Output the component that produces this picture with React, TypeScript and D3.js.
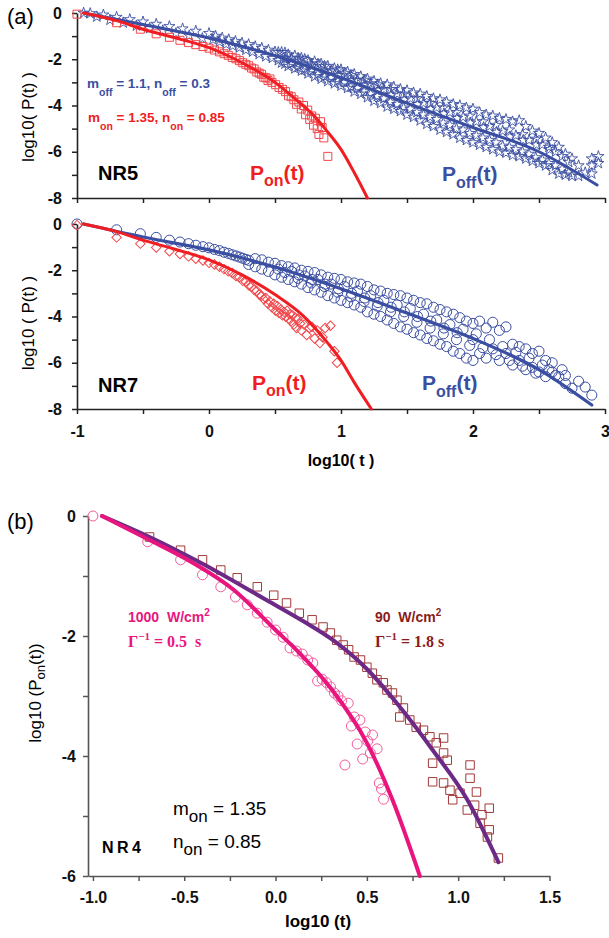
import React, { useEffect, useRef } from "react";
import * as d3 from "d3";

type Pt = [number, number];
type Seg = { t: string; s?: "sub" | "sup" };

// ---- panel (a), NR5 ----
const nr5OnPts: Pt[] = [
  [-1.0, -0.05], [-0.7, -0.42], [-0.52, -0.7], [-0.4, -0.9], [-0.3, -1.05], [-0.22, -1.18], [-0.155, -1.28],
  [-0.1, -1.37], [-0.046, -1.45], [0, -1.52], [0.041, -1.6], [0.079, -1.68], [0.114, -1.76], [0.146, -1.83],
  [0.176, -1.92], [0.204, -1.98], [0.23, -2.06], [0.255, -2.15], [0.279, -2.22], [0.301, -2.28], [0.322, -2.38],
  [0.342, -2.42], [0.362, -2.55], [0.38, -2.6], [0.398, -2.65], [0.415, -2.78], [0.431, -2.8], [0.447, -2.92],
  [0.462, -2.85], [0.477, -3.0], [0.505, -3.1], [0.531, -3.22], [0.556, -3.3], [0.58, -3.4], [0.602, -3.58],
  [0.623, -3.62], [0.643, -3.75], [0.663, -3.95], [0.681, -3.85], [0.699, -4.15], [0.716, -4.0], [0.732, -4.4],
  [0.748, -4.2], [0.763, -4.6], [0.778, -4.45], [0.792, -4.85], [0.806, -4.55], [0.82, -5.0], [0.833, -5.25],
  [0.845, -4.7], [0.857, -4.95], [0.87, -5.4], [0.9, -6.2],
];
const nr5OffPts: Pt[] = [
  [-0.95, 0], [-0.9, -0.02], [-0.85, -0.16], [-0.8, -0.08], [-0.75, -0.3], [-0.7, -0.18], [-0.65, -0.42], [-0.6, -0.28],
  [-0.55, -0.55], [-0.5, -0.38], [-0.45, -0.66], [-0.4, -0.48], [-0.35, -0.76], [-0.3, -0.58], [-0.25, -0.88],
  [-0.2, -0.68], [-0.15, -0.98], [-0.1, -0.78], [-0.05, -1.1], [0, -0.88],
  [0.03, -1.15], [0.05, -1.0], [0.08, -1.25], [0.1, -1.08], [0.13, -1.35], [0.15, -1.15], [0.18, -1.42], [0.2, -1.22],
  [0.23, -1.5], [0.25, -1.3], [0.28, -1.6], [0.3, -1.36], [0.33, -1.68], [0.35, -1.45], [0.38, -1.78], [0.4, -1.52],
  [0.43, -1.88], [0.45, -1.6], [0.48, -1.95], [0.5, -1.68],
  [0.55, -1.7], [0.55, -2.15], [0.58, -1.95], [0.6, -1.8], [0.6, -2.3], [0.65, -1.85], [0.65, -2.4], [0.68, -2.1],
  [0.7, -1.95], [0.7, -2.5], [0.75, -2.05], [0.75, -2.62], [0.78, -2.3], [0.8, -2.1], [0.8, -2.75], [0.85, -2.2],
  [0.85, -2.85], [0.88, -2.5], [0.9, -2.3], [0.9, -2.95], [0.95, -2.4], [0.95, -3.05], [0.98, -2.7], [1.0, -2.45],
  [1.0, -3.15], [1.05, -2.55], [1.05, -3.25], [1.08, -2.9], [1.1, -2.65], [1.1, -3.4], [1.15, -2.75], [1.15, -3.5],
  [1.18, -3.1], [1.2, -2.85], [1.2, -3.65], [1.25, -2.95], [1.25, -3.8], [1.28, -3.35], [1.3, -3.05], [1.3, -3.9],
  [1.35, -3.1], [1.35, -4.05], [1.38, -3.55], [1.4, -3.2], [1.4, -4.15], [1.45, -3.3], [1.45, -4.25], [1.48, -3.75],
  [1.5, -3.35], [1.5, -4.4], [1.55, -3.45], [1.55, -4.5], [1.58, -3.95], [1.6, -3.5], [1.6, -4.65], [1.65, -3.6],
  [1.65, -4.8], [1.68, -4.15], [1.7, -3.7], [1.7, -4.9], [1.75, -3.75], [1.75, -5.05], [1.78, -4.35], [1.8, -3.85],
  [1.8, -5.15], [1.85, -3.95], [1.85, -5.25], [1.88, -4.55], [1.9, -4.0], [1.9, -5.4], [1.95, -4.1], [1.95, -5.5],
  [1.98, -4.75], [2.0, -4.15], [2.0, -5.6], [2.05, -4.3], [2.05, -5.7], [2.08, -4.95], [2.1, -4.4], [2.1, -5.8],
  [2.15, -4.45], [2.15, -5.9], [2.18, -5.15], [2.2, -4.55], [2.2, -6.0], [2.25, -4.6], [2.25, -6.05], [2.28, -5.35],
  [2.3, -4.7], [2.3, -6.15], [2.35, -4.65], [2.35, -6.2], [2.38, -5.5], [2.4, -4.9], [2.4, -6.3], [2.45, -5.1],
  [2.45, -6.4], [2.48, -5.7], [2.5, -5.2], [2.5, -6.5], [2.55, -5.4], [2.55, -6.6], [2.58, -5.9], [2.6, -5.6],
  [2.6, -6.8], [2.65, -5.8], [2.65, -6.95], [2.7, -6.1], [2.7, -7.0], [2.75, -6.3], [2.75, -7.05], [2.8, -6.6],
  [2.8, -7.05], [2.85, -6.9], [2.9, -6.6], [2.9, -6.3], [2.9, -6.95], [2.95, -6.2], [2.95, -6.5],
  [0.525, -1.7], [0.525, -2.05], [0.575, -1.72], [0.575, -2.2], [0.625, -1.95], [0.625, -2.2], [0.675, -1.95],
  [0.675, -2.35], [0.725, -2.0], [0.725, -2.45], [0.775, -2.2], [0.775, -2.5], [0.825, -2.2], [0.825, -2.65],
  [0.875, -2.3], [0.875, -2.75], [0.925, -2.5], [0.925, -2.8], [0.975, -2.45], [0.975, -2.95], [1.025, -2.6],
  [1.025, -3.0], [1.075, -2.7], [1.075, -3.2], [1.125, -2.9], [1.125, -3.25], [1.175, -2.9], [1.175, -3.4],
  [1.225, -3.05], [1.225, -3.5], [1.275, -3.1], [1.275, -3.6], [1.325, -3.3], [1.325, -3.7], [1.375, -3.3],
  [1.375, -3.85], [1.425, -3.5], [1.425, -3.95], [1.475, -3.5], [1.475, -4.1], [1.525, -3.7], [1.525, -4.15],
  [1.575, -3.7], [1.575, -4.3], [1.625, -3.9], [1.625, -4.4], [1.675, -3.9], [1.675, -4.5], [1.725, -4.1],
  [1.725, -4.6], [1.775, -4.1], [1.775, -4.75], [1.825, -4.3], [1.825, -4.85], [1.875, -4.3], [1.875, -5.0],
  [1.925, -4.5], [1.925, -5.05], [1.975, -4.45], [1.975, -5.2], [2.025, -4.7], [2.025, -5.3], [2.075, -4.7],
  [2.075, -5.4], [2.125, -4.9], [2.125, -5.5], [2.175, -4.85], [2.175, -5.6], [2.225, -5.1], [2.225, -5.75],
  [2.275, -5.05], [2.275, -5.8], [2.325, -5.3], [2.325, -5.9], [2.375, -5.25], [2.375, -6.0], [2.425, -5.5],
  [2.425, -6.1], [2.475, -5.45], [2.475, -6.25], [2.525, -5.7], [2.525, -6.35], [2.575, -5.8], [2.575, -6.5],
  [2.625, -6.0], [2.625, -6.6], [2.675, -6.2], [2.675, -6.75], [2.725, -6.45], [2.725, -6.9],
];
const nr5OnFit: Pt[] = [
  [-0.95, 0], [-0.7, -0.33], [-0.5, -0.7], [-0.25, -1.08], [0, -1.5], [0.25, -2.15], [0.5, -3.0],
  [0.69, -3.9], [0.77, -4.3], [0.9, -5.15], [1.0, -5.9], [1.1, -6.9], [1.2, -8],
];
const nr5OffFit: Pt[] = [
  [-0.95, 0], [-0.5, -0.5], [0, -1.08], [0.5, -1.85], [1, -2.8], [1.5, -3.9], [2, -4.95], [2.5, -6.0], [2.94, -7.44],
];

// ---- panel (a), NR7 ----
const nr7OnPts: Pt[] = [
  [-1, -0.05], [-0.7, -0.58], [-0.52, -0.85], [-0.4, -1.02], [-0.3, -1.18], [-0.22, -1.3], [-0.155, -1.4],
  [-0.1, -1.5], [-0.046, -1.58], [0, -1.68], [0.041, -1.75], [0.079, -1.85], [0.114, -1.95], [0.146, -2.05],
  [0.176, -2.12], [0.204, -2.25], [0.23, -2.3], [0.255, -2.45], [0.279, -2.5], [0.301, -2.65], [0.322, -2.7],
  [0.342, -2.85], [0.362, -2.9], [0.38, -3.05], [0.398, -3.1], [0.415, -3.25], [0.431, -3.2], [0.447, -3.45],
  [0.462, -3.35], [0.477, -3.6], [0.491, -3.45], [0.505, -3.75], [0.519, -3.55], [0.531, -3.85], [0.544, -3.7],
  [0.556, -3.95], [0.568, -3.8], [0.58, -4.0], [0.591, -3.75], [0.602, -4.1], [0.613, -3.9], [0.623, -4.2],
  [0.633, -3.95], [0.643, -4.35], [0.653, -4.05], [0.663, -4.5], [0.672, -4.1], [0.69, -4.3], [0.7, -4.6],
  [0.72, -4.35], [0.74, -4.8], [0.76, -4.5], [0.78, -4.45], [0.8, -4.95], [0.82, -4.6], [0.84, -5.15],
  [0.86, -4.9], [0.88, -4.5], [0.92, -4.4], [0.95, -5.5], [0.97, -6.0],
];
const nr7OffPts: Pt[] = [
  [-1, 0], [-0.7, -0.25], [-0.52, -0.42], [-0.4, -0.58], [-0.3, -0.7], [-0.22, -0.78], [-0.155, -0.85], [-0.1, -0.92],
  [-0.046, -0.98], [0, -1.03], [0.041, -1.1], [0.079, -1.15], [0.114, -1.22], [0.146, -1.27], [0.176, -1.33],
  [0.204, -1.38], [0.23, -1.43], [0.255, -1.48], [0.279, -1.53], [0.301, -1.57], [0.3, -1.75], [0.35, -1.5],
  [0.35, -1.85], [0.4, -1.55], [0.4, -1.95], [0.45, -1.65], [0.45, -2.05], [0.5, -1.7], [0.5, -2.2],
  [0.55, -1.8], [0.55, -2.3], [0.6, -1.85], [0.6, -2.4], [0.65, -1.9], [0.65, -2.5], [0.68, -2.2], [0.7, -2.0],
  [0.7, -2.6], [0.75, -2.05], [0.75, -2.75], [0.78, -2.4], [0.8, -2.1], [0.8, -2.85], [0.85, -2.2], [0.85, -2.95],
  [0.88, -2.6], [0.9, -2.3], [0.9, -3.1], [0.95, -2.35], [0.95, -3.2], [0.98, -2.8], [1.0, -2.4], [1.0, -3.3],
  [1.05, -2.5], [1.05, -3.4], [1.08, -3.0], [1.1, -2.55], [1.1, -3.5], [1.15, -2.6], [1.15, -3.6], [1.18, -3.2],
  [1.2, -2.7], [1.2, -3.8], [1.25, -2.85], [1.25, -3.9], [1.28, -3.4], [1.3, -2.9], [1.3, -4.0], [1.35, -3.0],
  [1.35, -4.15], [1.38, -3.6], [1.4, -3.05], [1.4, -4.3], [1.45, -3.1], [1.45, -4.45], [1.48, -3.8], [1.5, -3.2],
  [1.5, -4.55], [1.55, -3.3], [1.55, -4.7], [1.58, -4.0], [1.6, -3.4], [1.6, -4.8], [1.65, -3.45], [1.65, -4.95],
  [1.68, -4.2], [1.7, -3.6], [1.7, -5.05], [1.75, -3.7], [1.75, -5.2], [1.78, -4.5], [1.8, -3.8], [1.8, -5.3],
  [1.85, -3.9], [1.85, -5.5], [1.88, -4.7], [1.9, -4.05], [1.9, -5.6], [1.95, -4.2], [1.95, -5.8], [2.0, -4.3],
  [2.0, -5.9], [2.0, -5.0], [2.05, -4.2], [2.05, -5.6], [2.1, -4.5], [2.1, -5.8], [2.15, -4.25], [2.15, -5.4],
  [2.2, -4.6], [2.2, -5.9], [2.25, -4.45], [2.25, -5.6], [2.3, -5.2], [2.3, -6.1], [2.35, -5.3], [2.35, -5.9],
  [2.4, -5.4], [2.4, -6.3], [2.45, -5.6], [2.45, -6.2], [2.5, -5.5], [2.5, -6.4], [2.55, -5.9], [2.55, -6.6],
  [2.6, -6.0], [2.6, -6.4], [2.65, -6.6], [2.7, -6.55], [2.7, -6.9], [2.75, -7.1], [2.8, -6.8], [2.85, -7.05],
  [2.9, -7.4],
  [0.525, -1.95], [0.575, -2.1], [0.625, -2.05], [0.675, -2.35], [0.725, -2.25], [0.775, -2.55], [0.825, -2.4],
  [0.875, -2.7], [0.925, -2.6], [0.975, -2.95], [1.025, -2.7], [1.075, -3.15], [1.125, -2.9], [1.175, -3.35],
  [1.225, -3.1], [1.275, -3.55], [1.325, -3.3], [1.375, -3.8], [1.425, -3.5], [1.475, -4.0], [1.525, -3.65],
  [1.575, -4.25], [1.625, -3.9], [1.675, -4.5], [1.725, -4.15], [1.775, -4.75], [1.825, -4.35], [1.875, -5.0],
  [1.925, -4.55], [1.975, -5.25], [2.025, -4.75], [2.075, -5.35], [2.125, -5.0], [2.175, -5.65], [2.225, -5.3],
  [2.275, -5.9], [2.325, -5.55], [2.375, -6.15], [2.425, -5.8], [2.475, -6.45], [2.525, -6.1], [2.575, -6.3],
  [2.625, -6.55], [2.675, -6.3],
];
const nr7OnFit: Pt[] = [
  [-0.95, 0], [-0.7, -0.33], [-0.5, -0.7], [-0.25, -1.1], [0, -1.55], [0.25, -2.2], [0.5, -3.05],
  [0.71, -3.95], [0.9, -5.15], [1.0, -5.9], [1.1, -6.85], [1.23, -8],
];
const nr7OffFit: Pt[] = [
  [-0.95, 0], [-0.5, -0.56], [0, -1.12], [0.5, -1.86], [1, -2.8], [1.5, -3.85], [2, -4.95], [2.5, -6.3], [2.9, -7.83],
];

// ---- panel (b), NR4 ----
const nr4HighPts: Pt[] = [
  [-1, 0], [-0.7, -0.43], [-0.52, -0.73], [-0.4, -0.98], [-0.3, -1.18], [-0.22, -1.35], [-0.155, -1.48],
  [-0.1, -1.62], [-0.046, -1.77], [0, -1.9], [0.041, -2.02], [0.079, -2.2], [0.114, -2.25], [0.146, -2.3],
  [0.176, -2.4], [0.204, -2.45], [0.23, -2.75], [0.255, -2.72], [0.279, -2.78], [0.301, -2.85], [0.322, -2.95],
  [0.342, -3.0], [0.362, -3.08], [0.38, -4.15], [0.398, -3.12], [0.415, -3.5], [0.431, -3.35], [0.447, -3.8],
  [0.462, -3.4], [0.477, -4.05], [0.491, -3.6], [0.505, -3.75], [0.519, -3.95], [0.531, -3.65], [0.556, -3.88],
  [0.568, -4.45], [0.58, -4.55], [0.591, -4.72],
];
const nr4LowPts: Pt[] = [
  [-0.69, -0.35], [-0.52, -0.57], [-0.4, -0.73], [-0.3, -0.9], [-0.21, -1.03], [-0.1, -1.18], [-0.01, -1.32],
  [0.06, -1.45], [0.13, -1.62], [0.2, -1.73], [0.26, -1.85], [0.3, -1.95], [0.335, -2.07], [0.37, -2.15],
  [0.4, -2.23], [0.43, -2.35], [0.465, -2.4], [0.5, -2.52], [0.53, -2.62], [0.555, -2.73], [0.59, -2.78],
  [0.61, -2.9], [0.64, -2.95], [0.665, -3.07], [0.68, -3.35], [0.7, -3.2], [0.735, -3.4], [0.77, -3.52],
  [0.81, -3.57], [0.845, -3.68], [0.88, -3.78], [0.92, -3.7], [0.92, -3.95], [0.86, -4.12], [0.94, -4.07],
  [0.86, -4.43], [0.92, -4.45], [0.955, -4.57], [0.97, -4.73], [1.01, -4.62], [1.065, -4.15], [1.065, -4.37],
  [1.1, -4.6], [1.05, -4.9], [1.09, -4.82], [1.13, -4.98], [1.17, -4.87], [1.12, -5.12], [1.17, -5.23],
  [1.16, -5.35], [1.22, -5.7],
];
const nr4HighFit: Pt[] = [
  [-0.95, 0], [-0.69, -0.4], [-0.5, -0.7], [-0.23, -1.23], [0, -1.9], [0.13, -2.28], [0.31, -2.9],
  [0.5, -3.78], [0.64, -4.73], [0.79, -6],
];
const nr4LowFit: Pt[] = [
  [-0.95, 0], [-0.69, -0.35], [-0.41, -0.78], [-0.05, -1.4], [0.15, -1.75], [0.315, -2.07], [0.5, -2.55],
  [0.68, -3.18], [0.86, -3.9], [1.05, -4.73], [1.22, -5.77],
];

// tick values
const xTicksA = [-1, -0.5, 0, 0.5, 1, 1.5, 2, 2.5, 3];
const yTicksA = [0, -1, -2, -3, -4, -5, -6, -7, -8];
const xTicksB = [-1, -0.75, -0.5, -0.25, 0, 0.25, 0.5, 0.75, 1, 1.25, 1.5];
const yTicksB = [0, -1, -2, -3, -4, -5, -6];

const SANS = "'Liberation Sans', Arial, Helvetica, sans-serif";
const SERIF = "'Liberation Serif', 'Times New Roman', serif";
const RED = "#f01e23";
const RED_PT = "#f2474b";
const BLUE = "#3a4ea2";
const PINK = "#e8157e";
const PINK_PT = "#f25c9c";
const PURPLE = "#6c2a86";
const BROWN = "#a23a3a";
const BROWN_TX = "#8a1c1c";

const App = () => {
  const svgRef = useRef<SVGSVGElement>(null);

  useEffect(() => {
    const svg = d3.select(svgRef.current);
    svg.selectAll("*").remove();

    const xA = d3.scaleLinear().domain([-1, 3]).range([77, 605]);
    const yTop = d3.scaleLinear().domain([-8, 0]).range([198, 13]);
    const yBot = d3.scaleLinear().domain([-8, 0]).range([409, 224]);
    const xB = d3.scaleLinear().domain([-1.027, 1.5]).range([88, 549.5]);
    const yB = d3.scaleLinear().domain([-6, 0]).range([876, 516]);

    // rich text with sub/superscripts
    const rich = (x: number, y: number, segs: Seg[], o: any) => {
      const t = svg
        .append("text")
        .attr("x", x)
        .attr("y", y)
        .attr("font-size", o.size)
        .attr("fill", o.color || "#000")
        .attr("font-weight", o.weight || "bold")
        .attr("font-family", o.family || SANS)
        .attr("text-anchor", o.anchor || "start")
        .style("white-space", "pre");
      if (o.rotate) t.attr("transform", `rotate(-90 ${x} ${y})`);
      let cur = 0;
      segs.forEach((sg) => {
        const target = sg.s === "sub" ? o.subShift ?? o.size * 0.3 : sg.s === "sup" ? -(o.supShift ?? o.size * 0.4) : 0;
        const sp = t.append("tspan").text(sg.t).attr("dy", target - cur);
        if (sg.s) sp.attr("font-size", o.subSize ?? o.size * 0.72);
        cur = target;
      });
    };

    const styleAxis = (g: any, color: string, size: number) => {
      g.attr("font-size", size).attr("font-family", SANS).attr("font-weight", "bold");
      g.select(".domain").attr("stroke", color).attr("stroke-width", 1.6);
      g.selectAll(".tick line").attr("stroke", color).attr("stroke-width", 1.5);
      g.selectAll(".tick text").attr("fill", "#111");
    };

    // ---- panel (a) axes ----
    const fmtA = (d: any) => (Number.isInteger(d) && d % 2 === 0 ? String(d) : "");
    [yTop, yBot].forEach((y) => {
      svg
        .append("g")
        .attr("transform", "translate(77,0)")
        .call(d3.axisLeft(y).tickValues(yTicksA).tickFormat(fmtA).tickSize(5).tickSizeOuter(0).tickPadding(10))
        .call((g) => styleAxis(g, "#222", 16));
    });
    svg
      .append("g")
      .attr("transform", "translate(0,198)")
      .call(d3.axisBottom(xA).tickValues(xTicksA).tickFormat(() => "").tickSize(5).tickSizeOuter(0))
      .call((g) => styleAxis(g, "#222", 16));
    svg
      .append("g")
      .attr("transform", "translate(0,409)")
      .call(
        d3
          .axisBottom(xA)
          .tickValues(xTicksA)
          .tickFormat((d: any) => (Number.isInteger(d) ? String(d) : ""))
          .tickSize(5)
          .tickSizeOuter(0)
          .tickPadding(12)
      )
      .call((g) => styleAxis(g, "#222", 16));

    // ---- panel (b) axes ----
    svg
      .append("g")
      .attr("transform", "translate(88,0)")
      .call(
        d3
          .axisLeft(yB)
          .tickValues(yTicksB)
          .tickFormat((d: any) => (d % 2 === 0 ? String(d) : ""))
          .tickSize(5)
          .tickSizeOuter(0)
          .tickPadding(7)
      )
      .call((g) => styleAxis(g, "#555", 16));
    svg
      .append("g")
      .attr("transform", "translate(0,876)")
      .call(
        d3
          .axisBottom(xB)
          .tickValues(xTicksB)
          .tickFormat((d: any) => (Math.abs(d * 2 - Math.round(d * 2)) < 1e-9 ? d.toFixed(1) : ""))
          .tickSize(5)
          .tickSizeOuter(0)
          .tickPadding(11)
      )
      .call((g) => styleAxis(g, "#555", 16));

    // ---- marks ----
    const marks = (pts: Pt[], x: any, y: any, type: any, size: number, color: string, rot = 0, sw = 1) => {
      const sym = d3.symbol().type(type).size(size);
      svg
        .append("g")
        .selectAll("path")
        .data(pts)
        .join("path")
        .attr("d", sym as any)
        .attr("transform", (d) => `translate(${x(d[0])},${y(d[1])}) rotate(${rot})`)
        .attr("fill", "none")
        .attr("stroke", color)
        .attr("stroke-width", sw);
    };
    const fit = (pts: Pt[], x: any, y: any, color: string, w: number) => {
      const line = d3
        .line<Pt>()
        .x((d) => x(d[0]))
        .y((d) => y(d[1]))
        .curve(d3.curveMonotoneX);
      svg
        .append("path")
        .datum(pts)
        .attr("d", line)
        .attr("fill", "none")
        .attr("stroke", color)
        .attr("stroke-width", w)
        .attr("stroke-linecap", "round");
    };

    // NR5
    marks(nr5OffPts, xA, yTop, d3.symbolStar, 38, BLUE, 0, 0.9);
    marks(nr5OnPts, xA, yTop, d3.symbolSquare, 64, RED_PT, 0, 1);
    fit(nr5OffFit, xA, yTop, BLUE, 3);
    fit(nr5OnFit, xA, yTop, RED, 3);

    // NR7
    marks(nr7OffPts, xA, yBot, d3.symbolCircle, 80, BLUE, 0, 1);
    marks(nr7OnPts, xA, yBot, d3.symbolSquare, 45, RED_PT, 45, 1);
    fit(nr7OffFit, xA, yBot, BLUE, 3.2);
    fit(nr7OnFit, xA, yBot, RED, 3);

    // NR4
    marks(nr4LowPts, xB, yB, d3.symbolSquare, 72, BROWN, 0, 1);
    marks(nr4HighPts, xB, yB, d3.symbolCircle, 78, PINK_PT, 0, 1);
    fit(nr4LowFit, xB, yB, PURPLE, 4);
    fit(nr4HighFit, xB, yB, PINK, 4);

    // ---- text ----
    rich(7, 24, [{ t: "(a)" }], { size: 22, weight: "normal" });
    rich(7, 529, [{ t: "(b)" }], { size: 22, weight: "normal" });

    rich(34, 117, [{ t: "log10( P(t) )" }], { size: 17, weight: "normal", anchor: "middle", rotate: true });
    rich(34, 323, [{ t: "log10 ( P(t) )" }], { size: 17, weight: "normal", anchor: "middle", rotate: true });
    rich(41, 693, [{ t: "log10 (P" }, { t: "on", s: "sub" }, { t: "(t))" }], {
      size: 17, weight: "normal", anchor: "middle", rotate: true, subSize: 13, subShift: 4,
    });
    rich(341, 466, [{ t: "log10( t )" }], { size: 16, anchor: "middle" });
    rich(318, 927, [{ t: "log10 (t)" }], { size: 17, anchor: "middle" });

    rich(87, 88, [{ t: "m" }, { t: "off", s: "sub" }, { t: " = 1.1, n" }, { t: "off", s: "sub" }, { t: " = 0.3" }], {
      size: 13.5, color: BLUE, subSize: 10.5, subShift: 8,
    });
    rich(88, 122, [{ t: "m" }, { t: "on", s: "sub" }, { t: " = 1.35, n" }, { t: "on", s: "sub" }, { t: " = 0.85" }], {
      size: 13.5, color: RED, subSize: 10.5, subShift: 8,
    });
    rich(98, 180, [{ t: "NR5" }], { size: 20 });
    rich(98, 392, [{ t: "NR7" }], { size: 20 });
    rich(250, 180, [{ t: "P" }, { t: "on", s: "sub" }, { t: "(t)" }], { size: 21, color: RED, subSize: 16, subShift: 6 });
    rich(442, 181, [{ t: "P" }, { t: "off", s: "sub" }, { t: "(t)" }], { size: 21, color: BLUE, subSize: 16, subShift: 7 });
    rich(252, 390, [{ t: "P" }, { t: "on", s: "sub" }, { t: "(t)" }], { size: 21, color: RED, subSize: 16, subShift: 6 });
    rich(422, 390, [{ t: "P" }, { t: "off", s: "sub" }, { t: "(t)" }], { size: 21, color: BLUE, subSize: 16, subShift: 7 });

    rich(128, 622, [{ t: "1000  W/cm" }, { t: "2", s: "sup" }], { size: 14, color: PINK, subSize: 10, supShift: 6 });
    rich(128, 647, [{ t: "Γ" }, { t: "−1", s: "sup" }, { t: " = 0.5  s" }], {
      size: 16, color: PINK, family: SERIF, subSize: 11, supShift: 7,
    });
    rich(375, 622, [{ t: "90  W/cm" }, { t: "2", s: "sup" }], { size: 14, color: BROWN_TX, subSize: 10, supShift: 6 });
    rich(375, 647, [{ t: "Γ" }, { t: "−1", s: "sup" }, { t: " = 1.8 s" }], {
      size: 16, color: BROWN_TX, family: SERIF, subSize: 11, supShift: 7,
    });
    rich(173, 815, [{ t: "m" }, { t: "on", s: "sub" }, { t: " = 1.35" }], { size: 19, weight: "normal", subSize: 17, subShift: 7 });
    rich(173, 848, [{ t: "n" }, { t: "on", s: "sub" }, { t: " = 0.85" }], { size: 19, weight: "normal", subSize: 17, subShift: 7 });
    svg
      .append("text")
      .attr("x", 102)
      .attr("y", 853)
      .attr("font-size", 16)
      .attr("font-weight", "bold")
      .attr("font-family", SANS)
      .attr("letter-spacing", 3.5)
      .text("NR4");
  }, []);

  return (
    <svg
      ref={svgRef}
      width={609}
      height={938}
      style={{ position: "absolute", left: 0, top: 0, background: "#fff" }}
    />
  );
};

export default App;
